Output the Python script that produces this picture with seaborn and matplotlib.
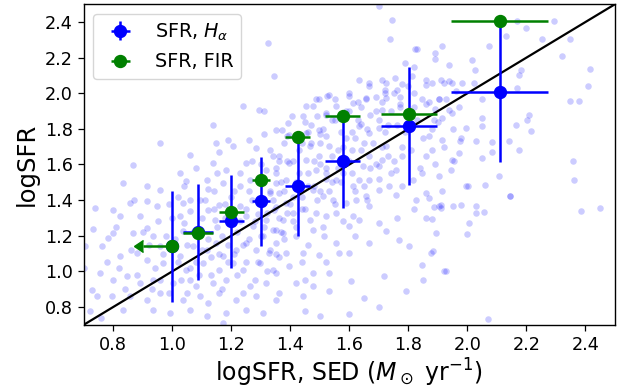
import matplotlib
matplotlib.use("Agg")
import matplotlib.pyplot as plt
import numpy as np
import pandas as pd
import seaborn as sns

# ---- binned points ----
sed_x = [1.000, 1.087, 1.200, 1.301, 1.425, 1.577, 1.802, 2.110]
sed_xerr = [0.015, 0.051, 0.042, 0.030, 0.042, 0.060, 0.095, 0.164]
ha_y = [1.140, 1.221, 1.281, 1.393, 1.478, 1.618, 1.815, 2.006]
ha_yerr = [0.31, 0.27, 0.26, 0.25, 0.28, 0.26, 0.33, 0.39]
fir_y = [1.140, 1.216, 1.331, 1.513, 1.755, 1.871, 1.884, 2.404]
fir_xerr = [0.0, 0.051, 0.042, 0.030, 0.042, 0.060, 0.095, 0.164]
fir_uplim_len = 0.10  # first FIR point is an upper limit (arrow)

xticks = [0.8, 1.0, 1.2, 1.4, 1.6, 1.8, 2.0, 2.2, 2.4]
yticks = [0.8, 1.0, 1.2, 1.4, 1.6, 1.8, 2.0, 2.2, 2.4]

# ---- background galaxies ----
bg_points = [
    (1.870,1.413),(1.886,1.362),(1.912,1.375),(1.912,1.356),(1.951,1.369),(1.979,1.375),(2.030,1.365),
    (2.028,1.328),(2.056,1.331),(2.144,1.421),(2.384,1.341),(2.449,1.358),(1.880,1.296),(1.893,1.217),
    (2.004,1.272),(1.999,1.212),(1.883,1.112),(1.876,1.103),(1.926,1.004),(2.070,0.734),
    (1.913,2.264),(1.937,2.161),(2.016,2.189),(2.025,2.133),(1.909,2.077),(1.921,2.058),(1.938,2.067),
    (1.949,2.058),(1.926,1.969),(1.949,1.890),(1.915,1.862),(1.994,1.806),(2.048,1.965),(2.048,1.862),
    (2.022,2.058),(2.073,2.264),(2.129,2.320),(2.168,2.404),(2.197,2.367),(2.253,2.302),(2.292,2.404),
    (2.320,2.208),(2.349,2.302),(2.416,2.137),(2.410,2.043),(2.349,1.955),(2.377,1.955),(2.180,2.133),
    (2.174,2.105),(2.208,1.880),(2.202,1.852),(2.217,1.787),(2.165,1.819),(2.140,1.730),(2.174,1.680),
    (2.082,1.725),(2.082,1.669),(2.050,1.637),(2.030,1.730),(1.974,1.730),(1.971,1.665),(1.949,1.627),
    (2.106,1.538),(2.002,1.478),(2.061,1.487),(2.143,1.421),(2.356,1.618),(2.362,1.515),(2.050,1.815),
    (2.168,2.030),
    (1.668,1.161),(1.701,1.272),(1.724,1.225),(1.769,1.178),(1.803,1.140),(1.791,0.888),(1.847,1.038),
    (1.921,1.000),(1.605,0.944),(1.532,0.888),(1.718,0.972),(1.476,0.991),(1.448,0.953),(1.498,1.094),
    (1.566,1.103),(1.600,1.103),(1.555,1.160),(1.515,1.197),(1.600,1.253),(1.634,1.290),(1.667,1.365),
    (1.701,1.459),(1.735,1.478),(1.757,1.431),(1.825,1.403),(1.859,1.440),(1.904,1.365),(1.915,1.449),
    (1.954,1.618),(1.977,1.749),(1.994,1.478),(1.943,1.571),(1.881,1.684),(1.915,1.740),(1.887,1.852),
    (1.937,1.908),(1.904,1.965),(1.960,2.011),(1.982,2.058),(1.859,2.049),(1.724,2.058),(1.667,2.039),
    (1.656,1.974),(1.724,1.974),(1.770,1.980),(1.847,1.965),(1.611,1.946),(1.555,1.927),(1.498,1.965),
    (1.442,1.871),(1.521,1.890),(1.600,1.983),(1.530,1.990),(1.476,1.927),(1.391,1.834),(1.352,1.796),
    (1.397,1.768),(1.453,1.777),(1.498,1.796),(1.634,1.815),(1.667,1.777),(1.701,1.806),(1.724,1.702),
    (1.667,1.646),(1.701,1.590),(1.645,1.590),(1.712,1.627),(1.757,1.571),(1.780,1.646),(1.859,1.646),
    (1.847,1.553),(1.814,1.515),(1.904,1.534),(1.634,1.515),(1.611,1.478),(1.668,1.515),(1.555,1.515),
    (1.521,1.553),(1.487,1.571),(1.498,1.646),(1.465,1.702),(1.532,1.702),(1.500,1.720),(1.453,1.627),
    (1.397,1.609),(1.363,1.646),(1.352,1.553),(1.386,1.515),(1.476,1.459),(1.510,1.421),(1.543,1.403),
    (1.589,1.384),(1.622,1.403),(1.656,1.421),(1.611,1.309),(1.555,1.328),(1.521,1.309),(1.487,1.328),
    (1.465,1.290),(1.408,1.328),(1.374,1.290),(1.346,1.347),(1.386,1.384),(1.363,1.440),(1.476,1.234),
    (1.420,1.197),(1.374,1.216),(1.341,1.234),(1.386,1.103),(1.350,1.100),(1.442,1.103),(1.397,1.028),
    (1.352,0.991),(1.420,0.935),(1.363,0.879),(1.476,0.916),(1.532,0.991),(1.442,0.860),
    (0.958,1.721),(1.149,1.721),(1.205,1.702),(1.284,1.693),(1.341,1.646),(1.059,1.656),(1.160,1.670),
    (0.868,1.599),(1.025,1.553),(1.080,1.580),(1.138,1.609),(1.183,1.571),(1.251,1.609),(1.318,1.571),
    (0.834,1.497),(0.913,1.478),(0.958,1.459),(1.048,1.506),(1.116,1.515),(1.120,1.460),(1.172,1.497),
    (1.228,1.478),(1.262,1.515),(1.352,1.497),(1.330,1.440),(0.738,1.356),(0.800,1.347),(0.856,1.384),
    (0.913,1.393),(0.947,1.365),(1.036,1.384),(1.093,1.403),(1.025,1.309),(1.060,1.340),(1.121,1.347),
    (1.160,1.370),(1.144,1.290),(1.228,1.365),(1.251,1.309),(1.273,1.253),(1.318,1.290),(1.352,1.234),
    (1.307,1.197),(0.823,1.309),(0.890,1.309),(0.800,1.216),(0.783,1.188),(0.868,1.216),(0.913,1.244),
    (0.935,1.197),(0.958,1.140),(1.036,1.225),(1.070,1.140),(1.116,1.122),(1.149,1.160),(1.172,1.084),
    (1.217,1.122),(1.251,1.160),(1.284,1.122),(1.329,1.103),(1.350,1.160),(0.705,1.140),(0.761,1.144),
    (0.823,1.084),(0.879,1.103),(0.913,1.066),(0.969,1.047),(1.025,1.084),(1.048,1.010),(1.104,1.047),
    (1.160,1.010),(1.205,1.047),(1.239,1.010),(1.296,1.047),(1.341,1.010),(0.755,0.991),(0.800,0.953),
    (0.845,0.972),(0.890,0.935),(0.935,0.953),(1.003,0.935),(1.059,0.953),(1.138,0.935),(1.183,0.953),
    (1.262,0.916),(1.318,0.935),(0.727,0.897),(0.744,0.860),(0.795,0.860),(0.856,0.860),(0.913,0.841),
    (0.958,0.879),(1.036,0.841),(1.093,0.860),(1.160,0.879),(1.217,0.841),(1.284,0.860),(1.350,0.840),
    (0.834,0.785),(0.935,0.785),(0.992,0.766),(1.059,0.785),(1.116,0.747),(1.183,0.766),(1.251,0.785),
    (1.172,0.710),(1.307,0.766),
    (1.700,2.489),(1.745,2.414),(1.739,2.302),(1.824,2.246),(1.830,2.250),(1.891,2.227),(1.890,2.190),
    (1.790,2.171),(1.820,2.150),(1.323,2.283),(1.345,2.096),(1.238,1.927),(1.137,1.824),(1.295,1.908),
    (1.310,1.900),(1.407,1.871),(1.452,1.927),(1.486,1.965),(1.525,1.983),(1.550,1.970),(1.599,2.002),
    (1.633,2.077),(1.667,2.058),(1.711,2.077),(1.756,2.087),(1.812,2.096),(1.858,2.077),(1.880,2.060),
    (1.903,1.965),(1.722,2.021),(1.760,2.020),(1.800,2.040),(1.600,1.900),(1.655,1.965),(1.690,1.980),
    (1.711,1.908),(1.770,1.940),(1.820,1.920),(1.860,1.940),(1.580,1.870),(1.542,1.852),(1.490,1.870),
    (1.450,1.840),(1.373,1.796),(1.390,1.760),(1.460,1.780),(1.500,1.770),(1.520,1.760),(1.610,1.780),
    (1.640,1.830),(1.890,1.910),(1.900,1.840),(1.870,1.760),(1.261,1.740),(1.310,1.770),(1.190,1.740),
    (1.15,1.25),(1.18,1.30),(1.22,1.22),(1.25,1.35),(1.28,1.28),(1.30,1.20),(1.32,1.33),(1.34,1.40),
    (1.36,1.30),(1.38,1.45),(1.40,1.38),(1.42,1.50),(1.44,1.42),(1.46,1.55),(1.48,1.48),(1.50,1.60),
    (1.52,1.52),(1.54,1.65),(1.56,1.58),(1.58,1.70),(1.60,1.62),(1.62,1.75),(1.64,1.68),(1.66,1.80),
    (1.68,1.72),(1.70,1.85),(1.72,1.78),(1.74,1.90),(1.76,1.82),(1.78,1.70),(1.12,1.18),(1.14,1.35),
    (1.16,1.10),(1.20,1.42),(1.24,1.15),(1.26,1.45),(1.29,1.05),(1.31,1.52),(1.33,1.12),(1.35,1.58),
    (1.37,1.22),(1.39,1.62),(1.41,1.28),(1.43,1.68),(1.45,1.35),(1.47,1.72),(1.49,1.40),(1.51,1.80),
    (1.53,1.45),(1.55,1.85),(1.57,1.50),(1.59,1.90),(1.61,1.55),(1.63,1.95),(1.65,1.48),(1.67,1.88),
    (1.69,1.60),(1.71,1.95),(1.73,1.65),(1.75,2.00),(1.05,1.15),(1.08,1.05),(1.10,1.30),(1.03,0.95),
    (1.06,1.40),(0.98,1.20),(1.00,1.30),(0.96,0.95),(1.02,1.05),(1.09,0.98),
    (0.72,0.78),(0.76,0.74),(0.70,1.02),(0.73,1.24),(1.60,0.76),(1.70,0.80),(1.50,0.75),(1.45,0.78),
    (1.65,0.85),(1.85,0.95),
    (0.82,1.02),(0.86,1.12),(0.88,0.98),(0.92,1.15),(0.94,1.02),(0.97,1.10),(0.99,0.88),(0.84,0.90),
    (0.90,1.22),(0.95,1.28),(0.87,1.40),(0.93,0.90),(0.81,1.25),(0.78,1.05),(0.99,1.38),
    (1.01,1.18),(1.04,1.27),(1.07,1.22),(1.10,1.12),(1.13,1.08),(1.17,1.20),(1.19,1.15),(1.02,1.42),
    (1.05,0.88),(1.08,0.92),(1.11,1.40),(1.14,1.45),(1.18,1.38),(1.13,0.98),(1.19,1.05),(1.06,1.02),
    (1.12,0.82),(1.17,0.90),(1.04,1.48),(1.15,1.55),
    (1.21,1.10),(1.23,1.28),(1.26,1.18),(1.27,1.40),(1.29,1.32),(1.31,1.25),(1.33,1.45),(1.35,1.36),
    (1.37,1.50),(1.39,1.33),(1.22,0.98),(1.25,1.05),(1.28,0.95),(1.32,1.00),(1.36,1.08),(1.38,1.18),
    (1.23,1.55),(1.27,1.62),(1.33,1.68),(1.38,1.72),(1.21,1.45),(1.30,1.60),(1.36,1.62),(1.24,0.88),
    (1.41,1.42),(1.43,1.55),(1.44,1.35),(1.46,1.48),(1.48,1.62),(1.50,1.45),(1.52,1.58),(1.54,1.50),
    (1.56,1.68),(1.58,1.55),(1.59,1.75),(1.41,1.62),(1.44,1.72),(1.47,1.82),(1.52,1.88),(1.57,1.78),
    (1.42,1.25),(1.46,1.15),(1.51,1.25),(1.55,1.38),(1.58,1.28),(1.44,1.05),(1.52,1.05),
    (1.61,1.68),(1.63,1.85),(1.65,1.72),(1.67,1.58),(1.69,1.90),(1.71,1.70),(1.73,1.82),(1.75,1.62),
    (1.77,1.92),(1.79,1.78),(1.62,1.45),(1.66,1.40),(1.70,1.52),(1.74,1.55),(1.78,1.48),(1.64,1.92),
    (1.72,2.00),(1.78,2.05),(1.62,1.20),(1.76,1.30),
    (1.81,1.68),(1.83,1.85),(1.85,1.75),(1.87,1.95),(1.89,1.60),(1.82,2.00),(1.84,1.58),(1.88,1.80),
    (1.92,1.70),(1.95,1.80),(1.97,1.92),(1.82,1.35),(1.86,1.30),
]
bg = pd.DataFrame(bg_points, columns=["sed", "sfr"])

fig = plt.figure(figsize=(6.3, 3.88), dpi=100)
ax = fig.add_axes([0.1329, 0.1629, 0.9762 - 0.1329, 0.9892 - 0.1629])

sns.scatterplot(data=bg, x="sed", y="sfr", color="blue", alpha=0.2, s=22,
                linewidth=0, ax=ax, legend=False, zorder=1)

ax.axline((0, 0), slope=1, color="black", lw=1.6, zorder=2)

ax.errorbar(sed_x, ha_y, xerr=sed_xerr, yerr=ha_yerr, fmt="o", color="blue",
            ms=8.6, elinewidth=1.8, capsize=0, zorder=3, label=r"SFR, $H_\alpha$")
ax.errorbar(sed_x, fir_y, xerr=fir_xerr, fmt="o", color="green",
            ms=8.6, elinewidth=1.8, capsize=0, zorder=4, label="SFR, FIR")
ax.errorbar(sed_x[0], fir_y[0], xerr=fir_uplim_len, xuplims=True, fmt="none",
            color="green", ecolor="green", elinewidth=1.8, capsize=4.5, zorder=4)

ax.set_xlim(0.7, 2.5)
ax.set_ylim(0.7, 2.5)
ax.set_xticks(xticks)
ax.set_yticks(yticks)
ax.tick_params(labelsize=12.7, length=4.4, width=0.9, pad=3.5)
ax.set_xlabel(r"logSFR, SED ($M_\odot$ yr$^{-1}$)", fontsize=17, labelpad=2)
ax.set_ylabel("logSFR", fontsize=17.5)
for sp in ax.spines.values():
    sp.set_linewidth(1.0)

ax.legend(loc="upper left", fontsize=13.8)

fig.savefig("out.png", dpi=100)
